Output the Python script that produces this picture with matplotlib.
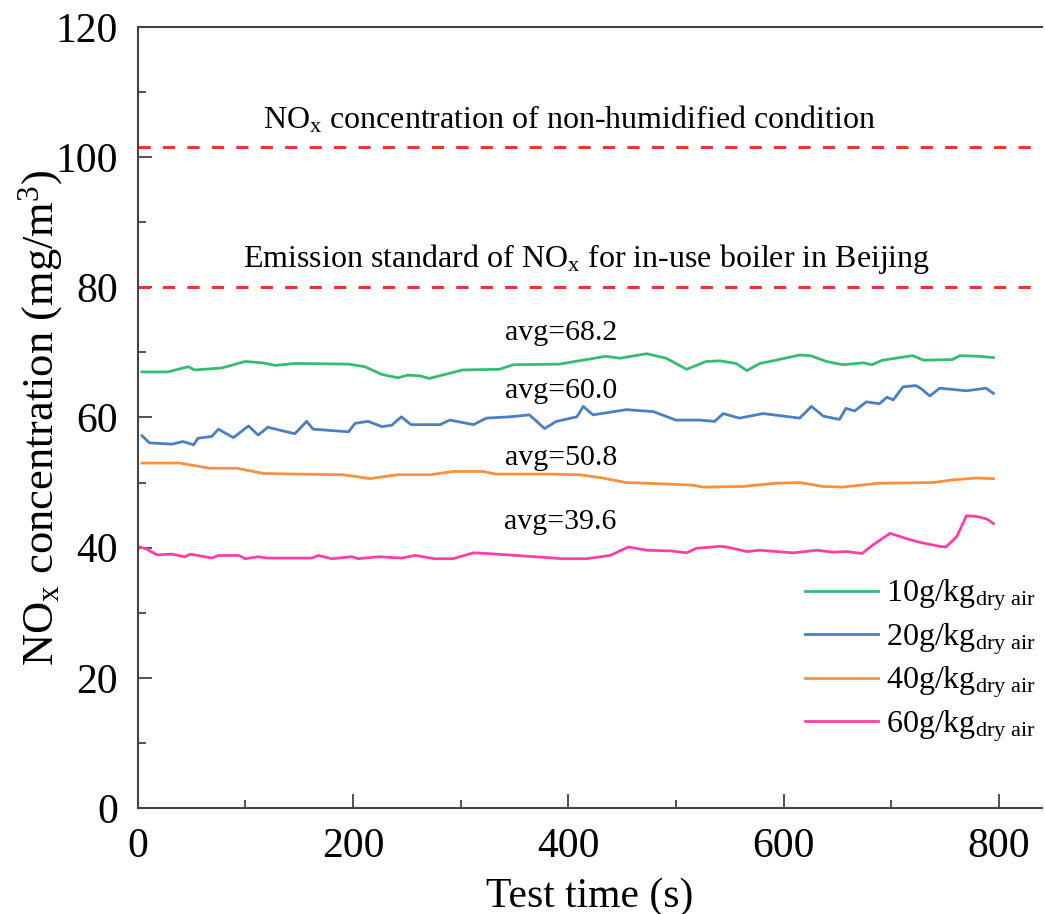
import matplotlib
matplotlib.use("Agg")
import matplotlib.pyplot as plt
from matplotlib.ticker import MultipleLocator

plt.rcParams["font.family"] = ["Liberation Serif", "DejaVu Serif"]
plt.rcParams["mathtext.fontset"] = "custom"
plt.rcParams["mathtext.rm"] = "Liberation Serif"
plt.rcParams["mathtext.it"] = "Liberation Serif:italic"

# Humidity 10 g/kg dry air
t_10 = [4, 28, 47, 53, 78, 100, 116, 128, 146, 196, 211, 227, 242, 251, 262, 271, 302,
        336, 349, 392, 435, 448, 473, 491, 510, 528, 541, 556, 566, 578, 593, 615, 625,
        640, 655, 674, 682, 692, 720, 730, 757, 764, 782, 795]
no_10 = [67.0, 67.0, 67.8, 67.3, 67.6, 68.6, 68.4, 68.0, 68.3, 68.2, 67.8, 66.6, 66.1, 66.5,
         66.4, 66.0, 67.3, 67.4, 68.1, 68.2, 69.4, 69.1, 69.8, 69.1, 67.4, 68.6, 68.7, 68.3,
         67.2, 68.3, 68.8, 69.6, 69.5, 68.6, 68.1, 68.4, 68.1, 68.8, 69.5, 68.8, 68.9, 69.5,
         69.4, 69.2]

# Humidity 20 g/kg dry air
t_20 = [4, 11, 32, 42, 52, 56, 69, 75, 89, 103, 112, 121, 146, 157, 163, 196, 202, 214,
        227, 236, 245, 254, 281, 290, 312, 324, 346, 364, 378, 389, 408, 414, 423, 454,
        479, 500, 522, 536, 544, 559, 581, 615, 626, 637, 652, 658, 666, 677, 689, 696,
        702, 711, 723, 728, 736, 745, 770, 788, 795]
no_20 = [57.2, 56.1, 55.9, 56.3, 55.8, 56.8, 57.1, 58.2, 56.9, 58.7, 57.3, 58.5, 57.5, 59.4,
         58.2, 57.8, 59.1, 59.4, 58.6, 58.8, 60.1, 58.9, 58.9, 59.6, 58.9, 59.9, 60.1, 60.4,
         58.3, 59.4, 60.1, 61.7, 60.4, 61.2, 60.9, 59.6, 59.6, 59.4, 60.6, 59.9, 60.6, 59.9,
         61.7, 60.2, 59.7, 61.4, 61.0, 62.4, 62.1, 63.1, 62.7, 64.7, 64.9, 64.4, 63.3, 64.5,
         64.1, 64.5, 63.7]

# Humidity 40 g/kg dry air
t_40 = [4, 39, 67, 92, 117, 148, 191, 216, 241, 272, 293, 321, 333, 380, 411, 432, 454,
        473, 516, 525, 562, 593, 615, 637, 655, 671, 689, 739, 757, 779, 795]
no_40 = [53.0, 53.0, 52.2, 52.2, 51.4, 51.3, 51.2, 50.6, 51.2, 51.2, 51.7, 51.7, 51.3, 51.3,
         51.2, 50.7, 50.0, 49.9, 49.6, 49.3, 49.4, 49.9, 50.0, 49.4, 49.3, 49.6, 49.9, 50.0,
         50.4, 50.7, 50.6]

# Humidity 60 g/kg dry air
t_60 = [2, 8, 18, 32, 44, 49, 69, 75, 94, 100, 112, 121, 162, 168, 180, 199, 205, 224,
        245, 258, 276, 293, 312, 324, 352, 395, 417, 439, 456, 473, 495, 510, 519, 541,
        547, 566, 578, 609, 631, 646, 659, 673, 683, 699, 714, 727, 745, 751, 761, 770,
        779, 789, 795]
no_60 = [40.1, 39.8, 38.9, 39.0, 38.6, 39.0, 38.4, 38.8, 38.8, 38.3, 38.6, 38.4, 38.4, 38.8,
         38.3, 38.6, 38.3, 38.6, 38.4, 38.8, 38.3, 38.3, 39.2, 39.1, 38.8, 38.3, 38.3, 38.8,
         40.1, 39.6, 39.5, 39.2, 39.9, 40.2, 40.1, 39.4, 39.6, 39.2, 39.6, 39.3, 39.4, 39.1,
         40.4, 42.2, 41.4, 40.8, 40.2, 40.1, 41.7, 44.9, 44.8, 44.4, 43.7]

series_labels = [r"10g/kg$_{\mathrm{dry\ air}}$", r"20g/kg$_{\mathrm{dry\ air}}$",
                 r"40g/kg$_{\mathrm{dry\ air}}$", r"60g/kg$_{\mathrm{dry\ air}}$"]
series_colors = ["#35bb74", "#4a7fc1", "#f7913f", "#ff3fa6"]
avg_values = [68.2, 60.0, 50.8, 39.6]
avg_label_y = [73.0, 64.1, 53.8, 44.0]

ref_non_humidified = 101.5
ref_beijing_standard = 80.0

fig = plt.figure(figsize=(10.45, 9.14), dpi=100)
ax = fig.add_axes([0.1317, 0.1160, 0.8653, 0.8545])

for t, y, lab, col in zip([t_10, t_20, t_40, t_60], [no_10, no_20, no_40, no_60],
                          series_labels, series_colors):
    ax.plot(t, y, color=col, lw=2.0, label=lab)

for val, ly in zip(avg_values, avg_label_y):
    ax.text(393, ly, f"avg={val:.1f}", ha="center", va="center", fontsize=21.5)

ax.axhline(ref_non_humidified, color="#ee3333", lw=2.2, ls=(0, (4, 4)))
ax.axhline(ref_beijing_standard, color="#ee3333", lw=2.2, ls=(0, (4, 4)))
ax.text(401, 105.7, r"NO$_{\mathrm{x}}$ concentration of non-humidified condition",
        ha="center", va="center", fontsize=23)
ax.text(417, 84.4, r"Emission standard of NO$_{\mathrm{x}}$ for in-use boiler in Beijing",
        ha="center", va="center", fontsize=23)

ax.set_xlim(0, 840)
ax.set_ylim(0, 120)
ax.xaxis.set_major_locator(MultipleLocator(200))
ax.xaxis.set_minor_locator(MultipleLocator(100))
ax.yaxis.set_major_locator(MultipleLocator(20))
ax.yaxis.set_minor_locator(MultipleLocator(10))
ax.tick_params(which="both", direction="in", top=False, right=False,
               color="#444444", width=1.3)
ax.tick_params(which="major", length=10, labelsize=30)
ax.tick_params(axis="y", which="major", pad=14)
ax.tick_params(axis="x", which="major", pad=14)
ax.tick_params(which="minor", length=6)
for side in ["left", "bottom", "top"]:
    ax.spines[side].set_color("#444444")
    ax.spines[side].set_linewidth(1.5)
ax.spines["right"].set_visible(False)

ax.set_xlabel("Test time (s)", fontsize=30, labelpad=8)
ax.set_ylabel(r"NO$_{\mathrm{x}}$ concentration (mg/m$^{3}$)", fontsize=32, labelpad=-7)

ax.legend(loc="lower right", bbox_to_anchor=(1.025, 0.045), frameon=False, fontsize=23,
          handlelength=2.3, handletextpad=0.25, labelspacing=0.25)

fig.savefig("out.png", dpi=100)
